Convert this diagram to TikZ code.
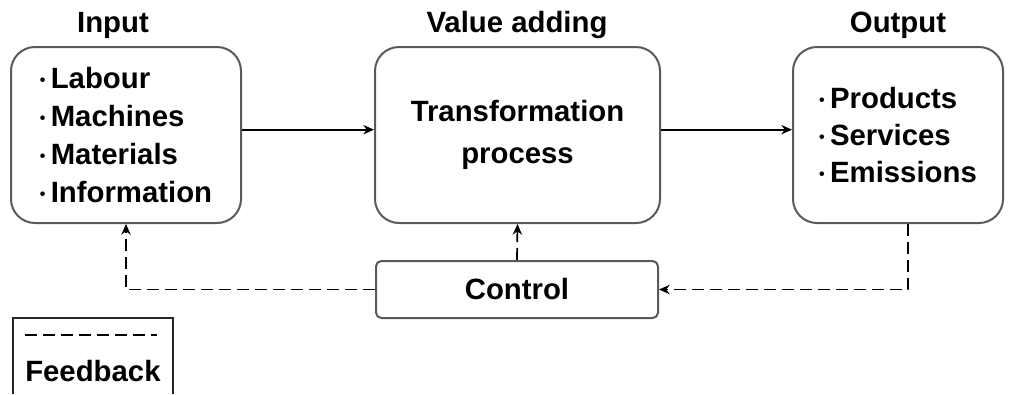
\documentclass[tikz,border=0pt]{standalone}
\usepackage{fontspec}
\setmainfont{Liberation Sans}
\usetikzlibrary{arrows.meta}
\newcommand{\itemdot}{{\fontsize{12}{12}\selectfont\raisebox{2pt}{•}}\hspace{4pt}}

\begin{document}
\begin{tikzpicture}[x=0.75pt, y=-0.75pt, >={Stealth[length=8pt,width=7pt]},
  font=\fontsize{22}{28.5}\selectfont\bfseries,
  stage/.style={draw=gray!70!black, line width=1.5pt, rounded corners=18pt,
    minimum height=132pt, inner sep=0pt, align=left},
  flow/.style={->, line width=1.3pt},
  feedback/.style={->, line width=1.3pt, dash pattern=on 9pt off 4.5pt}]
  % Page frame
  \useasboundingbox (0,0) rectangle (1013,394);

  % Stages
  \node[stage, minimum width=172.5pt] (input) at (126,135)
    {\itemdot Labour\\ \itemdot Machines\\ \itemdot Materials\\ \itemdot Information};
  \node[stage, minimum width=213.75pt, align=center] (value) at (517.5,135)
    {Transformation\\[3pt] process};
  \node[stage, minimum width=157.5pt, font=\fontsize{22}{27.75}\selectfont\bfseries] (output) at (898,135)
    {\itemdot Products\\ \itemdot Services\\ \itemdot Emissions};

  % Titles
  \node (intitle) at (113,25) {Input};
  \node (valtitle) at (517,25) {Value adding};
  \node (outtitle) at (898,25) {Output};

  % Control
  \node[draw=gray!70!black, line width=1.5pt, rounded corners=4pt,
    minimum width=211.5pt, minimum height=42.75pt] (control) at (517,289.5) {Control};

  % Flow
  \draw[flow] ([yshift=4pt]input.east) -- ([yshift=4pt]value.west);
  \draw[flow] ([yshift=4pt]value.east) -- ([yshift=4pt]output.west);

  % Feedback loops
  \draw[feedback] ([xshift=7.5pt]output.south) |- (control.east);
  \draw[feedback] (control.west) -| (input.south);
  \draw[feedback] (control.north) -- (value.south);

  % Legend
  \draw[draw=gray!30!black, line width=1.5pt] (13,394) |- (173,318) -- (173,394);
  \coordinate (keyA) at (25,335);
  \coordinate (keyB) at (157,335);
  \draw[line width=1.3pt, dash pattern=on 9pt off 4.5pt] (keyA) -- (keyB);
  \node[anchor=west, inner sep=0pt] (key) at (25,371) {Feedback};
\end{tikzpicture}
\end{document}
